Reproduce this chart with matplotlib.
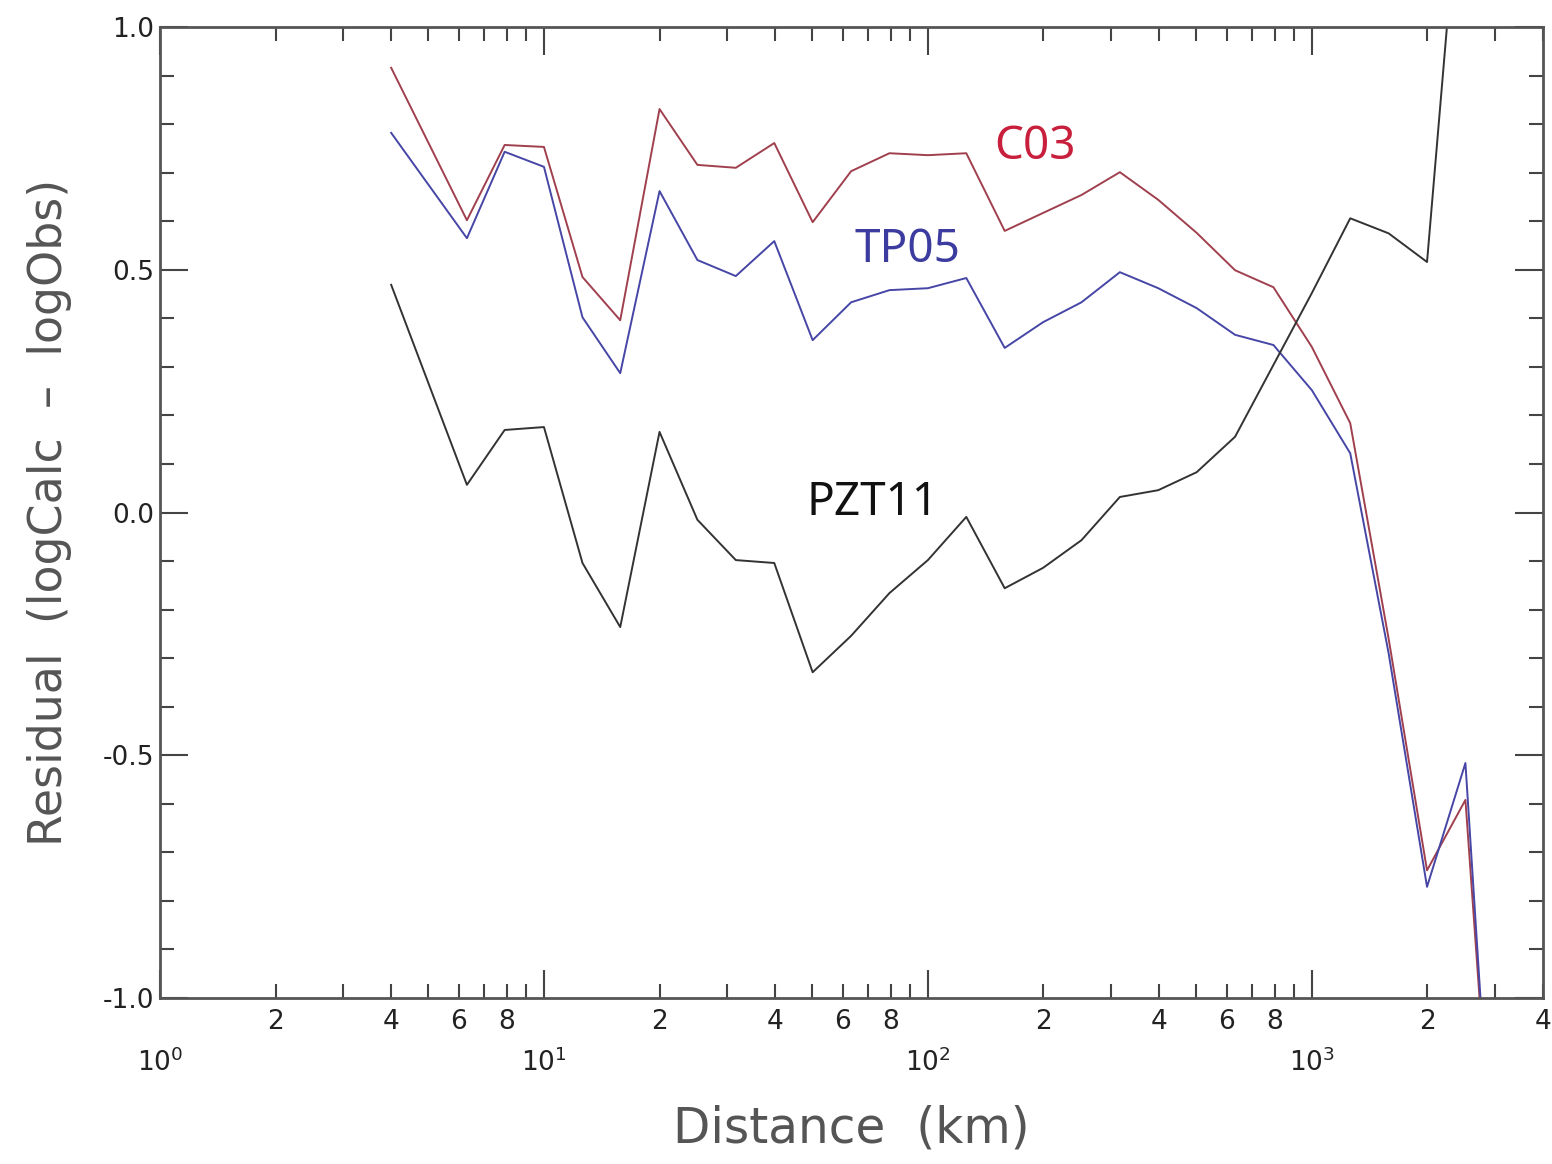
import matplotlib
matplotlib.use("Agg")
import matplotlib.pyplot as plt
from matplotlib.ticker import FixedLocator, FixedFormatter
import numpy as np

# distance bins (km)
distance = [4.0, 6.3, 7.9, 10.0, 12.6, 15.8, 20.0, 25.1, 31.6, 39.8, 50.1,
            63.1, 79.4, 100.0, 125.9, 158.5, 199.5, 251.2, 316.2, 398.1,
            501.2, 631.0, 794.3, 1000.0, 1258.9, 1584.9, 1995.3, 2511.9, 3162.3]

# residuals (logCalc - logObs)
c03 = [0.916, 0.602, 0.757, 0.753, 0.485, 0.396, 0.831, 0.716, 0.710, 0.761, 0.598,
       0.703, 0.740, 0.736, 0.740, 0.580, 0.617, 0.654, 0.701, 0.644,
       0.576, 0.499, 0.464, 0.341, 0.184, -0.26, -0.737, -0.592, -1.7]
tp05 = [0.782, 0.565, 0.743, 0.712, 0.402, 0.287, 0.662, 0.520, 0.487, 0.559, 0.355,
        0.433, 0.458, 0.462, 0.483, 0.339, 0.392, 0.433, 0.495, 0.462,
        0.421, 0.366, 0.345, 0.252, 0.122, -0.29, -0.771, -0.516, -1.75]
pzt11 = [0.469, 0.057, 0.170, 0.176, -0.104, -0.236, 0.166, -0.015, -0.098, -0.104, -0.329,
         -0.254, -0.166, -0.098, -0.009, -0.156, -0.114, -0.057, 0.032, 0.046,
         0.083, 0.156, 0.304, 0.452, 0.606, 0.575, 0.516, 1.45, 1.8]

fig = plt.figure(figsize=(15.52, 11.64), dpi=100)
ax = fig.add_axes([0.1031, 0.1426, 0.8911, 0.8342])

ax.plot(distance, c03, color="#a0404e", lw=1.4)
ax.plot(distance, tp05, color="#4646a6", lw=1.4)
ax.plot(distance, pzt11, color="#333333", lw=1.4)

ax.set_xscale("log")
ax.set_xlim(1, 4000)
ax.set_ylim(-1.0, 1.0)

# curve labels
ax.text(190, 0.753, "C03", color="#c8203c", fontsize=33, family="Noto Sans",
        ha="center", va="center")
ax.text(88.7, 0.54, "TP05", color="#3c3ca0", fontsize=33, family="Noto Sans",
        ha="center", va="center")
ax.text(71.9, 0.02, "PZT11", color="#111111", fontsize=33, family="Noto Sans",
        ha="center", va="center")

# x ticks: decades labelled below the 2/4/6/8 minor labels
majors = [1, 10, 100, 1000]
ax.xaxis.set_major_locator(FixedLocator(majors))
ax.xaxis.set_major_formatter(FixedFormatter(["$10^{0}$", "$10^{1}$", "$10^{2}$", "$10^{3}$"]))
minors = []
minor_labels = []
for dec in [1, 10, 100, 1000]:
    for k in range(2, 10):
        v = k * dec
        if v > 4000:
            break
        minors.append(v)
        minor_labels.append(str(k) if k in (2, 4, 6, 8) else "")
ax.xaxis.set_minor_locator(FixedLocator(minors))
ax.xaxis.set_minor_formatter(FixedFormatter(minor_labels))

ax.set_yticks([-1.0, -0.5, 0.0, 0.5, 1.0])
ax.set_yticklabels(["-1.0", "-0.5", "0.0", "0.5", "1.0"])
ax.set_yticks(np.arange(-1.0, 1.01, 0.1), minor=True)

ax.tick_params(which="both", direction="in", top=True, right=True, color="#444444")
ax.tick_params(which="major", length=20, width=1.5)
ax.tick_params(which="minor", length=10, width=1.5)
ax.tick_params(axis="x", which="major", pad=36, labelsize=19)
ax.tick_params(axis="x", which="minor", pad=8, labelsize=19)
ax.tick_params(axis="y", which="major", pad=4, labelsize=19)

for lab in ax.get_xticklabels(which="both") + ax.get_yticklabels():
    lab.set_color("#222222")

for sp in ax.spines.values():
    sp.set_color("#555555")
    sp.set_linewidth(2)

ax.set_xlabel("Distance  (km)", fontsize=35, color="#555555", labelpad=20)
ax.set_ylabel("Residual  (logCalc  \u2013  logObs)", fontsize=33, color="#555555",
              labelpad=22)

fig.savefig("out.png", dpi=100)
